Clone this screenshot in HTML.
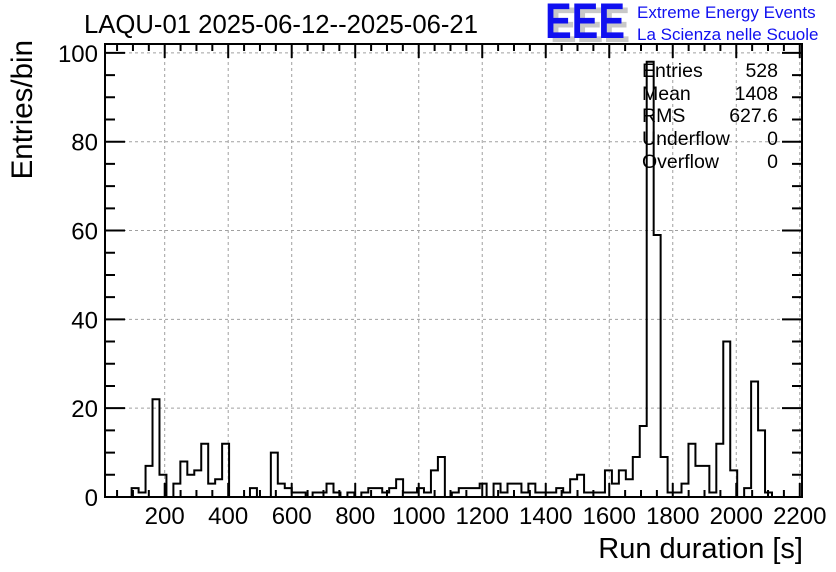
<!DOCTYPE html>
<html><head><meta charset="utf-8"><style>
html,body{margin:0;padding:0;background:#fff;}
svg{display:block;font-family:"Liberation Sans",Arial,sans-serif;}
</style></head><body>
<svg id="chart" width="836" height="572" viewBox="0 0 836 572" xmlns="http://www.w3.org/2000/svg">
<rect width="836" height="572" fill="#fff"/>
<g id="grid"></g>
<g id="hist"></g>
<g id="axes"></g>
<text x="84" y="33" font-size="25.5" textLength="394" lengthAdjust="spacingAndGlyphs">LAQU-01 2025-06-12--2025-06-21</text>
<g>
<text x="550" y="42" font-size="50" font-weight="bold" fill="#c8c8c8" textLength="80" lengthAdjust="spacingAndGlyphs">EEE</text>
<text x="545" y="38" font-size="50" font-weight="bold" fill="#1010f0" textLength="80" lengthAdjust="spacingAndGlyphs">EEE</text>
<text x="637" y="18" font-size="17" fill="#1010f0">Extreme Energy Events</text>
<text x="637" y="40" font-size="17" fill="#1010f0">La Scienza nelle Scuole</text>
</g>
<g font-size="19.5">
<text x="642" y="77">Entries</text><text x="778" y="77" text-anchor="end">528</text>
<text x="642" y="100">Mean</text><text x="778" y="100" text-anchor="end">1408</text>
<text x="642" y="122">RMS</text><text x="778" y="122" text-anchor="end">627.6</text>
<text x="642" y="145">Underflow</text><text x="778" y="145" text-anchor="end">0</text>
<text x="642" y="168">Overflow</text><text x="778" y="168" text-anchor="end">0</text>
</g>
<text x="803" y="558" font-size="29" text-anchor="end">Run duration [s]</text>
<text transform="translate(32,40) rotate(-90)" font-size="29.5" text-anchor="end">Entries/bin</text>
</svg>
<script>
const binStart = 8.2;
const binWidth = 21.92;
const binCounts = [0,0,0,0,2,1,7,22,5,0,3,8,5,6,12,3,4,12,0,0,0,2,0,0,10,3,2,1,1,0,1,1,3,1,0,1,0,1,2,2,1,2,4,1,1,2,1,6,9,0,1,2,2,2,3,0,3,1,3,3,1,3,1,1,1,2,1,4,5,1,1,1,6,3,6,4,9,16,98,59,9,1,1,3,12,7,7,1,12,35,6,0,2,26,15,1,0,0,0,0];
const xTicks = [200,400,600,800,1000,1200,1400,1600,1800,2000,2200];
const yTicks = [0,20,40,60,80,100];
const xMin = 12, xMax = 2207, yMin = 0, yMax = 102;
const L = 105, R = 802, T = 44, B = 497;
const NS = "http://www.w3.org/2000/svg";
function X(v){ return L + (v - xMin) / (xMax - xMin) * (R - L); }
function Y(v){ return B - (v - yMin) / (yMax - yMin) * (B - T); }
function mk(tag, attrs, parent){ const e = document.createElementNS(NS, tag); for (const k in attrs) e.setAttribute(k, attrs[k]); parent.appendChild(e); return e; }
const grid = document.getElementById('grid');
const axes = document.getElementById('axes');
const hist = document.getElementById('hist');
xTicks.forEach(t => {
  if (t < xMax) {
    const g = mk('line', {x1:X(t), x2:X(t), y1:T, y2:B, stroke:'#a0a0a0', 'stroke-dasharray':'3,3', 'stroke-width':1}, grid);
    
    
  }
  const lb = mk('text', {x:X(t), y:524, 'font-size':24, 'text-anchor':'middle'}, axes);
  lb.textContent = t;
  
  
});
yTicks.forEach(t => {
  if (t > 0) {
    const g = mk('line', {x1:L, x2:R, y1:Y(t), y2:Y(t), stroke:'#a0a0a0', 'stroke-dasharray':'3,3', 'stroke-width':1}, grid);
    
    
  }
  const lb = mk('text', {x:98, y:Y(t)+9, 'font-size':24, 'text-anchor':'end'}, axes);
  lb.textContent = t;
  
  
});
let d = '';
for (let i = 0; i < binCounts.length; i++) {
  let x0 = Math.max(L, X(binStart + i * binWidth));
  let x1 = Math.min(R, X(binStart + (i + 1) * binWidth));
  const y = Y(binCounts[i]);
  if (i === 0) d += 'M' + x0 + ',' + Y(0);
  d += 'L' + x0 + ',' + y + 'L' + x1 + ',' + y;
}
const p = mk('path', {d:d, fill:'none', stroke:'#000', 'stroke-width':2}, hist);


let td = '';
for (let v = 50; v < xMax; v += 50) {
  const major = v % 200 === 0;
  const len = major ? 14 : 7;
  td += 'M' + X(v) + ',' + B + 'V' + (B - len) + 'M' + X(v) + ',' + T + 'V' + (T + len);
}
for (let v = 0; v <= yMax; v += 5) {
  const major = v % 20 === 0;
  const len = major ? 20 : 10;
  td += 'M' + L + ',' + Y(v) + 'H' + (L + len) + 'M' + R + ',' + Y(v) + 'H' + (R - len);
}
const tk = mk('path', {d:td, stroke:'#000', 'stroke-width':2, fill:'none'}, axes);


const fr = mk('rect', {x:L, y:T, width:R-L, height:B-T, fill:'none', stroke:'#000', 'stroke-width':2}, axes);


</script>
</body></html>
